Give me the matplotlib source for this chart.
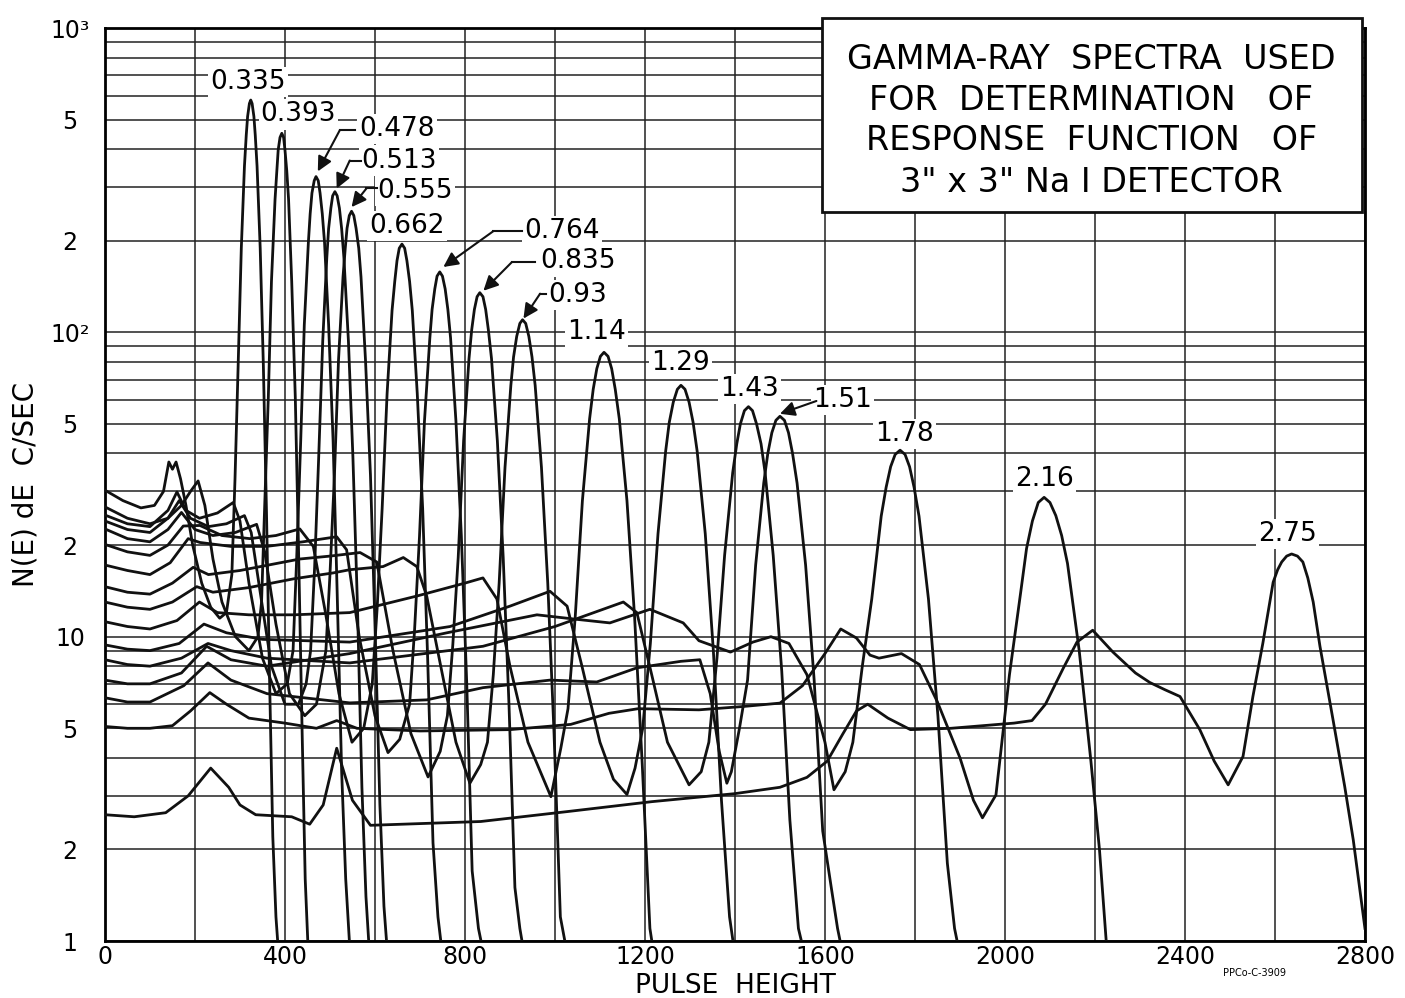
import matplotlib
matplotlib.use('Agg')
import matplotlib.pyplot as plt
from matplotlib.patches import Rectangle

# pulse height (channel) / counting rate for each source energy (MeV)
ch_335 = [0, 40, 80, 110, 130, 142, 150, 158, 168, 180, 195, 215, 235, 255, 270, 282, 289, 296, 303, 310, 314, 317, 321, 324, 327, 331, 334, 338, 345, 352, 359, 366, 373, 380, 386]
cps_335 = [30.3, 28, 26.5, 27, 30, 37.5, 35.5, 37.5, 33, 27, 20, 15, 12.5, 11.5, 12, 16, 33, 78, 189, 352, 445, 512, 565, 580, 565, 512, 445, 352, 189, 78, 25.5, 7, 2.2, 1.2, 0.9]

ch_393 = [0, 50, 100, 140, 170, 190, 207, 222, 240, 260, 290, 320, 340, 348, 355, 363, 370, 378, 382, 385, 389, 393, 397, 400, 404, 408, 415, 423, 430, 438, 445, 452]
cps_393 = [26.7, 24.5, 23.5, 24.5, 27, 30, 32.5, 27, 18, 13, 10, 9, 10, 13, 27, 61, 147, 274, 340, 398, 437, 451, 437, 398, 340, 274, 147, 61, 20, 5, 1.6, 0.9]

ch_478 = [0, 50, 100, 140, 160, 180, 210, 250, 285, 300, 320, 350, 380, 405, 418, 426, 435, 443, 452, 456, 460, 465, 469, 474, 478, 483, 488, 497, 507, 516, 526, 535, 545]
cps_478 = [25.1, 23.5, 23, 26, 29.9, 26, 24.5, 25.5, 27.6, 24, 15, 8.5, 6.5, 7, 9, 18, 44, 106, 197, 245, 287, 315, 325, 315, 287, 245, 197, 106, 44, 14, 3.6, 1.6, 0.9]

ch_513 = [0, 50, 100, 140, 165, 190, 230, 270, 310, 325, 345, 370, 400, 430, 447, 457, 466, 475, 484, 493, 497, 502, 506, 511, 516, 521, 526, 531, 541, 551, 561, 571, 580, 588]
cps_513 = [24, 22.5, 22, 24.5, 28, 24.5, 23, 23.5, 25, 22, 14, 8, 6, 6, 7, 9, 17, 39, 94, 176, 219, 256, 281, 290, 281, 256, 219, 176, 94, 39, 12.8, 3.2, 1.4, 0.9]

ch_555 = [0, 50, 100, 140, 170, 200, 240, 290, 337, 355, 380, 410, 444, 470, 491, 500, 510, 519, 529, 534, 538, 543, 548, 553, 558, 564, 569, 579, 590, 600, 611, 620, 628]
cps_555 = [22.6, 21, 20.5, 22.5, 25.6, 22.5, 21.5, 22, 23.4, 19, 11, 6.5, 5.5, 6, 9, 16, 34, 81, 152, 189, 220, 242, 250, 242, 220, 189, 152, 81, 34, 11, 2.8, 1.3, 0.9]

ch_662 = [0, 50, 100, 140, 174, 211, 260, 322, 380, 433, 463, 490, 520, 549, 575, 594, 605, 616, 627, 638, 644, 649, 654, 660, 666, 671, 677, 683, 694, 706, 717, 729, 740, 750]
cps_662 = [20.1, 19, 18.5, 20, 23.1, 23.2, 21.5, 21, 21.5, 22.6, 19.8, 12, 6.5, 4.5, 5, 7, 12.5, 26.4, 63, 118, 147, 172, 189, 195, 189, 172, 147, 118, 63, 26.4, 8.6, 2.1, 1.2, 0.9]

ch_764 = [0, 50, 100, 145, 185, 211, 280, 359, 440, 515, 537, 565, 600, 629, 655, 677, 688, 699, 710, 722, 727, 733, 738, 744, 750, 756, 762, 768, 780, 792, 804, 816, 830, 842]
cps_764 = [17.2, 16.5, 16, 17.5, 21, 20.4, 19.8, 19.8, 20.5, 21.3, 19.3, 10, 5.5, 4.16, 4.6, 6, 10.5, 21.4, 51, 96, 119, 139, 153, 158, 153, 139, 119, 96, 51, 21.4, 7, 1.7, 1.1, 0.9]

ch_835 = [0, 50, 100, 150, 196, 230, 300, 433, 500, 567, 604, 640, 680, 718, 745, 761, 773, 785, 797, 809, 815, 821, 827, 833, 840, 846, 852, 859, 872, 885, 898, 911, 922, 932]
cps_835 = [14.6, 14, 13.8, 15, 16.9, 16, 16.5, 18, 18.4, 18.9, 17.6, 9, 4.8, 3.46, 4.2, 5.5, 9.4, 18.2, 44, 82, 102, 119, 131, 135, 131, 119, 102, 82, 44, 18.2, 5.9, 1.5, 1.1, 0.9]

ch_93 = [0, 50, 100, 150, 204, 240, 320, 420, 507, 544, 618, 663, 693, 715, 750, 780, 811, 835, 850, 863, 876, 889, 902, 908, 915, 922, 928, 935, 942, 949, 956, 970, 984, 998, 1012, 1022, 1032]
cps_93 = [13, 12.5, 12.3, 13, 14.6, 14, 14.5, 15.5, 16.2, 16.6, 17, 18.2, 17, 13.6, 7.5, 4.5, 3.3, 3.8, 4.5, 7.5, 15, 36, 67, 83, 97, 107, 110, 107, 97, 83, 67, 36, 15, 4.8, 1.2, 1.0, 0.9]

ch_114 = [0, 50, 100, 160, 210, 250, 320, 420, 544, 693, 800, 840, 871, 900, 940, 991, 1013, 1029, 1045, 1061, 1077, 1085, 1093, 1101, 1109, 1118, 1126, 1134, 1143, 1160, 1177, 1194, 1211, 1220]
cps_114 = [11.2, 10.8, 10.6, 11.3, 13, 12, 11.8, 11.8, 12, 13.6, 15, 15.6, 13.3, 8, 4.5, 2.98, 4.3, 5.8, 11.6, 28, 52, 65, 76, 83.4, 86, 83.4, 76, 65, 52, 28, 11.6, 3.8, 1.1, 0.9]

ch_129 = [0, 50, 100, 165, 220, 270, 350, 544, 767, 900, 989, 1027, 1060, 1100, 1130, 1160, 1178, 1195, 1212, 1229, 1246, 1254, 1263, 1272, 1280, 1289, 1298, 1307, 1316, 1334, 1352, 1370, 1388, 1400]
cps_129 = [9.4, 9.1, 9, 9.5, 11, 10.3, 9.8, 9.6, 10.8, 12.6, 14.1, 12.6, 8, 4.5, 3.4, 3.03, 3.7, 5, 9.5, 21.8, 40.7, 50.6, 59, 65, 67, 65, 59, 50.6, 40.7, 21.8, 9, 2.9, 1.2, 0.9]

ch_143 = [0, 50, 100, 170, 229, 280, 360, 544, 840, 1000, 1100, 1152, 1182, 1215, 1250, 1298, 1325, 1342, 1360, 1377, 1395, 1404, 1412, 1421, 1430, 1439, 1448, 1458, 1467, 1485, 1504, 1522, 1541, 1555]
cps_143 = [8.4, 8.1, 8, 8.5, 9.5, 9, 8.5, 8.2, 9.3, 10.8, 12.2, 13, 12, 7.5, 4.5, 3.26, 3.6, 4.5, 8.5, 18.5, 34.6, 43, 50, 55.3, 57, 55.3, 50, 43, 34.6, 18.5, 7.7, 2.5, 1.1, 0.9]

ch_151 = [0, 50, 100, 175, 229, 280, 360, 544, 715, 840, 989, 1093, 1182, 1280, 1322, 1345, 1365, 1382, 1392, 1410, 1428, 1446, 1464, 1473, 1482, 1491, 1500, 1510, 1519, 1528, 1538, 1557, 1576, 1595, 1614, 1628, 1640]
cps_151 = [6.3, 6.1, 6.1, 6.9, 8.2, 7.2, 6.5, 6.06, 6.2, 6.8, 7.2, 7.1, 7.9, 8.3, 8.4, 6.5, 4.2, 3.3, 3.6, 5, 7.2, 17.2, 32, 40, 46.8, 51.4, 53, 51.4, 46.8, 40, 32, 17.2, 7.2, 2.3, 1.5, 1.1, 0.9]

ch_178 = [0, 50, 100, 170, 226, 280, 360, 544, 760, 960, 1049, 1122, 1211, 1285, 1320, 1390, 1440, 1480, 1520, 1560, 1600, 1620, 1645, 1662, 1683, 1704, 1725, 1736, 1746, 1756, 1767, 1778, 1788, 1798, 1809, 1830, 1851, 1872, 1888, 1900]
cps_178 = [7.2, 7, 7, 7.6, 9.3, 8.4, 8, 8.8, 10.3, 11.8, 11.4, 11.1, 12.3, 11.1, 9.7, 8.9, 9.6, 10, 9.5, 7.5, 4.5, 3.14, 3.6, 4.5, 8, 13.3, 24.9, 31, 36.2, 39.7, 41, 39.7, 36.2, 31, 24.9, 13.3, 5.5, 1.8, 1.1, 0.9]

ch_216 = [0, 50, 100, 150, 190, 233, 270, 320, 400, 470, 515, 560, 700, 900, 1035, 1120, 1185, 1320, 1420, 1500, 1550, 1600, 1635, 1670, 1700, 1720, 1770, 1810, 1850, 1900, 1930, 1950, 1980, 2010, 2035, 2048, 2061, 2074, 2087, 2100, 2113, 2126, 2139, 2165, 2191, 2210, 2225]
cps_216 = [5.07, 5.0, 5.0, 5.1, 5.7, 6.55, 6.0, 5.4, 5.2, 5.0, 5.3, 5.0, 4.9, 4.95, 5.15, 5.6, 5.8, 5.75, 5.9, 6.05, 6.9, 8.8, 10.6, 9.9, 8.7, 8.5, 8.8, 8.1, 6.1, 4.0, 2.9, 2.54, 3.02, 7.5, 14, 19.5, 24, 27.6, 28.7, 27.6, 25, 21.5, 17.4, 9, 3.9, 2, 1.0]

ch_275 = [0, 65, 135, 185, 235, 275, 300, 335, 415, 455, 485, 515, 550, 590, 835, 1025, 1215, 1400, 1500, 1560, 1605, 1640, 1670, 1695, 1740, 1790, 1880, 2020, 2060, 2090, 2130, 2160, 2195, 2240, 2290, 2322, 2355, 2389, 2433, 2465, 2496, 2529, 2551, 2573, 2596, 2606, 2615, 2626, 2637, 2650, 2662, 2673, 2685, 2700, 2729, 2755, 2774, 2800]
cps_275 = [2.6, 2.56, 2.64, 3.0, 3.7, 3.2, 2.8, 2.6, 2.56, 2.42, 2.8, 4.3, 2.9, 2.4, 2.47, 2.66, 2.87, 3.05, 3.2, 3.45, 3.9, 4.8, 5.7, 6.0, 5.4, 4.95, 5.0, 5.2, 5.3, 6.0, 7.9, 9.6, 10.5, 8.9, 7.6, 7.07, 6.7, 6.36, 4.95, 3.9, 3.26, 4.04, 6.36, 9.5, 15.1, 16.6, 17.6, 18.4, 18.7, 18.4, 17.6, 15.6, 13, 9.3, 5.34, 3.22, 2.15, 1.1]

spectra = [(ch_335, cps_335), (ch_393, cps_393), (ch_478, cps_478), (ch_513, cps_513),
           (ch_555, cps_555), (ch_662, cps_662), (ch_764, cps_764), (ch_835, cps_835),
           (ch_93, cps_93), (ch_114, cps_114), (ch_129, cps_129), (ch_143, cps_143),
           (ch_151, cps_151), (ch_178, cps_178), (ch_216, cps_216), (ch_275, cps_275)]

# peak labels: text and its position; some have a leader ending in an arrow
peak_labels = ['0.335', '0.393', '0.478', '0.513', '0.555', '0.662', '0.764', '0.835',
               '0.93', '1.14', '1.29', '1.43', '1.51', '1.78', '2.16', '2.75']
label_x = [318, 430, 649, 653, 689, 671, 1015, 1051, 1051, 1093, 1278, 1433, 1640, 1776, 2087, 2627]
label_y = [664, 520, 465, 367, 291, 223, 215, 171, 133, 100, 79.4, 65.2, 60, 46.4, 33.0, 21.7]
leaders = {
    '0.478': [(556, 462), (522, 462), (473, 338)],
    '0.513': [(570, 367), (544, 367), (515, 297)],
    '0.555': [(604, 297), (581, 297), (548, 258)],
    '0.764': [(926, 215), (863, 215), (752, 164)],
    '0.835': [(956, 170), (904, 170), (841, 137)],
    '0.93': [(981, 134), (967, 134), (930, 111)],
    '1.51': [(1581, 59.5), (1581, 59.5), (1500, 54)],
}

box_lines = ['GAMMA-RAY  SPECTRA  USED', 'FOR  DETERMINATION   OF',
             'RESPONSE  FUNCTION   OF', '3" x 3" Na I DETECTOR']

fig = plt.figure(figsize=(14.05, 9.98), dpi=100)
ax = fig.add_axes([0.0747, 0.0571, 0.8968, 0.9148])
ax.set_yscale('log')
ax.set_xlim(0, 2800)
ax.set_ylim(1, 1000)

# graph paper grid
for gx in range(0, 2801, 200):
    ax.axvline(gx, color='#222222', lw=1.1, zorder=1)
for dec in [1, 10, 100]:
    for m in range(1, 10):
        ax.axhline(m * dec, color='#222222', lw=1.1, zorder=1)
ax.axhline(1000, color='#222222', lw=1.1, zorder=1)

for chs, cps in spectra:
    ax.plot(chs, cps, color='#111111', lw=2.0, zorder=3, solid_joinstyle='round')

for name, tx, ty in zip(peak_labels, label_x, label_y):
    ax.text(tx, ty, name, fontsize=19, ha='center', va='center', zorder=2,
            bbox=dict(fc='white', ec='none', pad=1.5))
    if name in leaders:
        p0, p1, p2 = leaders[name]
        ax.plot([p0[0], p1[0]], [p0[1], p1[1]], color='#111111', lw=1.5, zorder=3)
        ax.annotate('', xy=p2, xytext=p1,
                    arrowprops=dict(arrowstyle='-|>', color='#111111', lw=1.5,
                                    mutation_scale=22, shrinkA=0, shrinkB=0), zorder=3)

ax.set_xticks(range(0, 2801, 400))
ax.set_xticklabels([str(v) for v in range(0, 2801, 400)], fontsize=17)
ax.set_yticks([1, 2, 5, 10, 20, 50, 100, 200, 500, 1000])
ax.set_yticklabels(['1', '2', '5', '10', '2', '5', '10²', '2', '5', '10³'], fontsize=17)
ax.minorticks_off()
ax.tick_params(axis='both', length=0)
ax.tick_params(axis='y', pad=25)
ax.tick_params(axis='x', pad=3)
for lab in ax.get_yticklabels():
    lab.set_horizontalalignment('center')
for sp in ax.spines.values():
    sp.set_linewidth(2)

ax.set_xlabel('PULSE  HEIGHT', fontsize=19, labelpad=3)
fig.text(0.018, 0.515, 'N(E) dE  C/SEC', rotation=90, fontsize=20, ha='center', va='center')
fig.text(0.893, 0.025, 'PPCo-C-3909', fontsize=7, ha='center', va='center')

ax.add_patch(Rectangle((0.569, 0.7985), 0.4286, 0.2125, transform=ax.transAxes,
                       fc='white', ec='#111111', lw=2, clip_on=False, zorder=5))
for line, yy in zip(box_lines, [0.965, 0.921, 0.877, 0.831]):
    ax.text(0.783, yy, line, transform=ax.transAxes, fontsize=24, ha='center',
            va='center', zorder=6)

fig.savefig('out.png', dpi=100, facecolor='white')
